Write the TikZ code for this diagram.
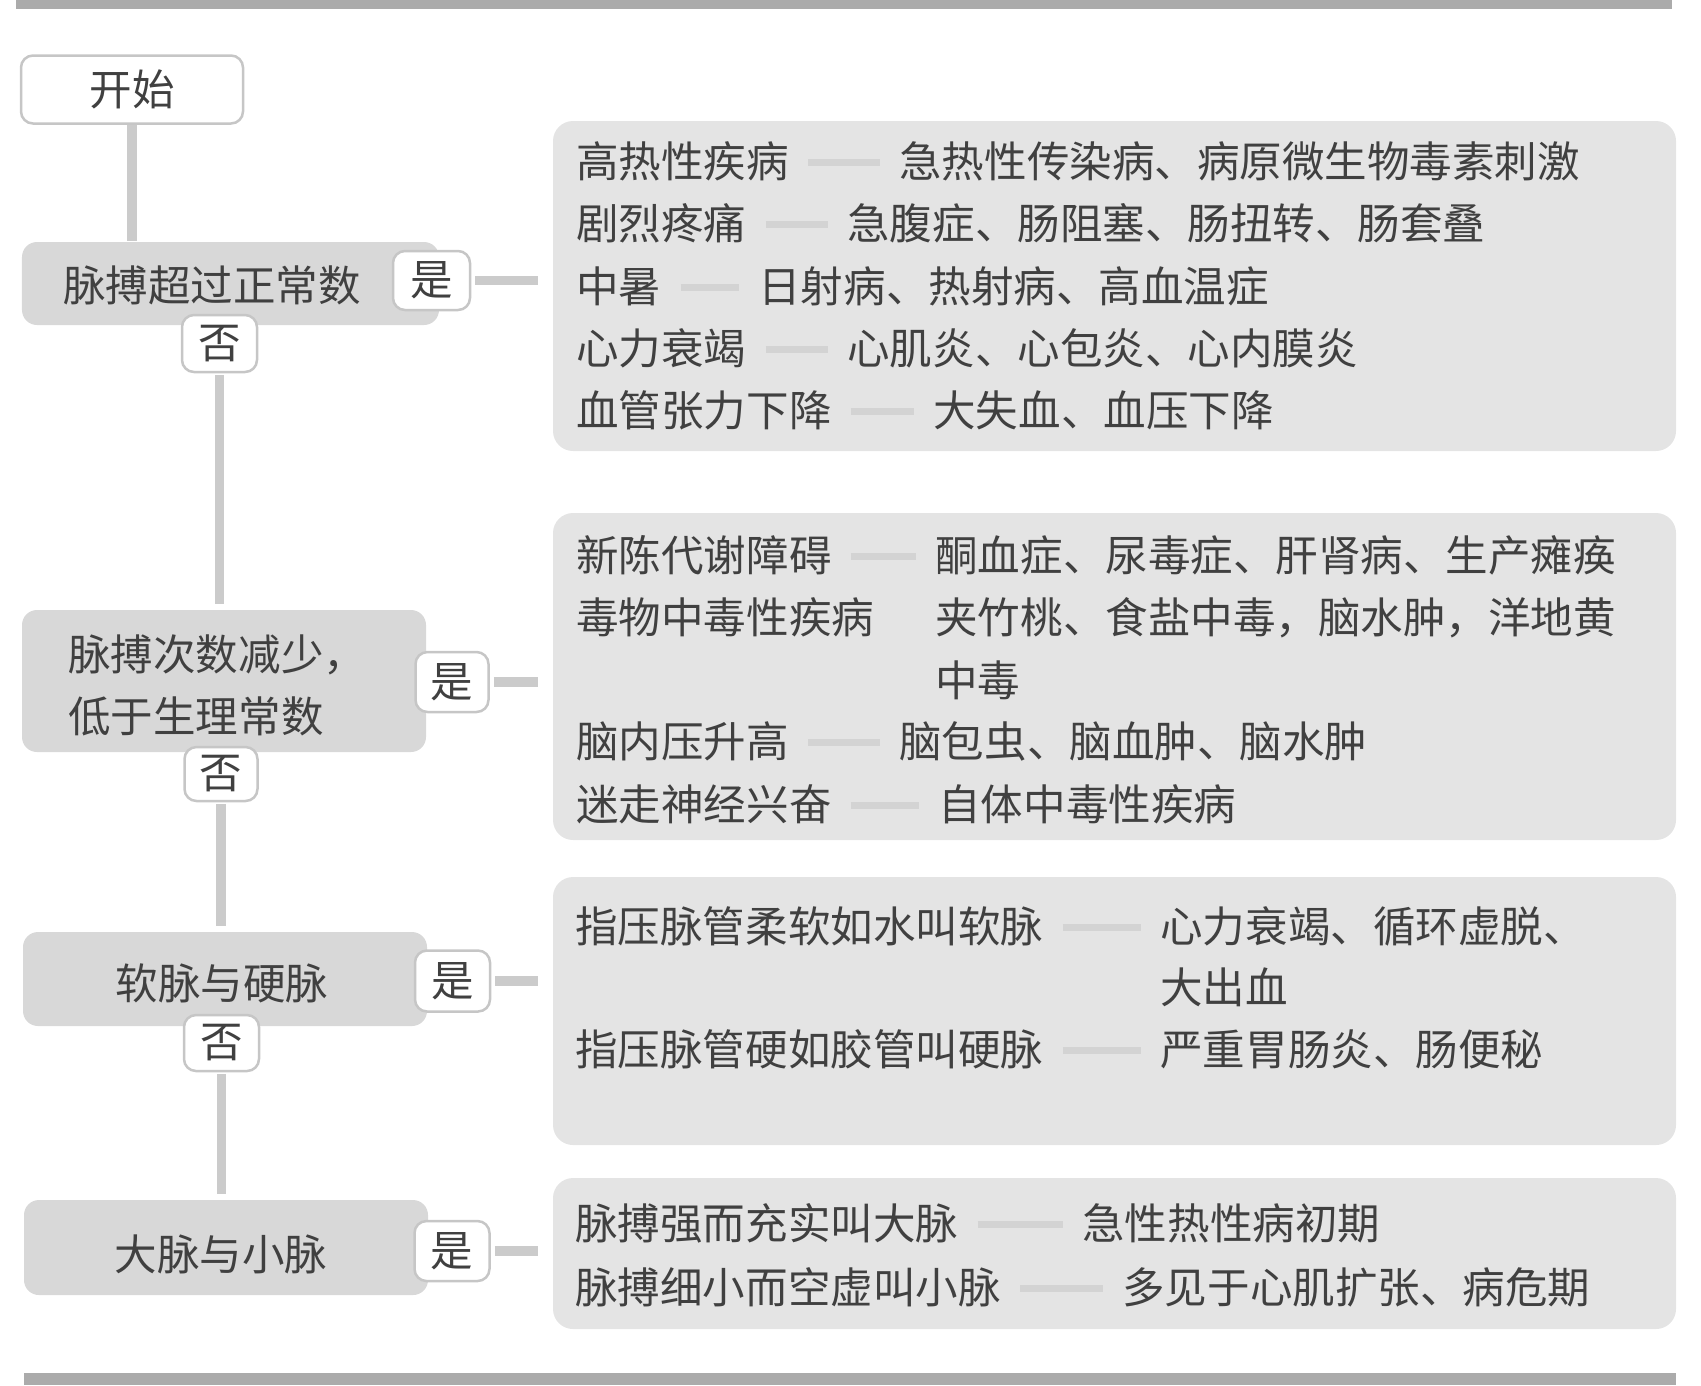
\documentclass[tikz,border=0pt]{standalone}
\usepackage{fontspec}
\setmainfont{Noto Sans CJK SC}
\usepackage{xcolor}
\usetikzlibrary{calc}
\definecolor{inkgray}{HTML}{404040}
\definecolor{boxgray}{HTML}{D8D8D8}
\definecolor{panelgray}{HTML}{E4E4E4}
\definecolor{linkgray}{HTML}{CBCBCB}
\definecolor{edgegray}{HTML}{C6C6C6}
\definecolor{dashgray}{HTML}{D3D3D3}
\definecolor{bargray}{HTML}{ABABAB}

\begin{document}
\begin{tikzpicture}[thick,
    every node/.style={font=\fontsize{12.1pt}{17.6pt}\selectfont, text=inkgray},
    qbox/.style={fill=boxgray, rounded corners=0.15cm, inner sep=0},
    panel/.style={fill=panelgray, rounded corners=0.2cm, inner sep=0},
    tag/.style={fill=white, draw=edgegray, line width=0.025cm, rounded corners=0.12cm, inner sep=0},
    item/.style={anchor=west, inner sep=0, text height=0.37cm, text depth=0.06cm},
    link/.style={draw=linkgray, line width=0.095cm},
    dashlink/.style={draw=dashgray, line width=0.07cm, shorten >=0.18cm, shorten <=0.18cm}]
      \useasboundingbox (0,0) rectangle (17.01,-13.85);
      % page rules
      \fill[bargray] (0.16,0) rectangle (16.72,-0.09);
      \fill[bargray] (0.24,-13.73) rectangle (16.76,-13.85);

      % left column
      \node[tag, minimum width=2.22cm, minimum height=0.68cm] (start) at (1.32,-0.895) {开始};
      \node[qbox, minimum width=4.17cm, minimum height=0.83cm] (q1) at (2.305,-2.835) {};
      \node (q1t) at (2.12,-2.85) {脉搏超过正常数};
      \node[qbox, minimum width=4.04cm, minimum height=1.42cm] (q2) at (2.24,-6.81) {};
      \node[anchor=west, align=left, inner sep=0] (q2t) at (0.67,-6.85) {脉搏次数减少，\\低于生理常数};
      \node[qbox, minimum width=4.04cm, minimum height=0.94cm] (q3) at (2.25,-9.79) {};
      \node (q3t) at (2.22,-9.83) {软脉与硬脉};
      \node[qbox, minimum width=4.04cm, minimum height=0.95cm] (q4) at (2.26,-12.475) {};
      \node (q4t) at (2.21,-12.54) {大脉与小脉};

      \node[tag, minimum width=0.77cm, minimum height=0.59cm] (yes1) at (4.315,-2.805) {是};
      \node[tag, minimum width=0.75cm, minimum height=0.57cm] (no1) at (2.195,-3.435) {否};
      \node[tag, minimum width=0.73cm, minimum height=0.60cm] (yes2) at (4.52,-6.82) {是};
      \node[tag, minimum width=0.73cm, minimum height=0.54cm] (no2) at (2.21,-7.74) {否};
      \node[tag, minimum width=0.75cm, minimum height=0.61cm] (yes3) at (4.525,-9.81) {是};
      \node[tag, minimum width=0.75cm, minimum height=0.56cm] (no3) at (2.215,-10.43) {否};
      \node[tag, minimum width=0.75cm, minimum height=0.60cm] (yes4) at (4.52,-12.51) {是};

      \draw[link] (start) -- (start |- q1.north);
      \draw[link, shorten <=0.02cm, shorten >=0.05cm] (no1) -- (no1 |- q2.north);
      \draw[link, shorten <=0.02cm, shorten >=0.05cm] (no2) -- (no2 |- q3.north);
      \draw[link, shorten <=0.02cm, shorten >=0.05cm] (no3) -- (no3 |- q4.north);

      % right panels
      \node[panel, minimum width=11.23cm, minimum height=3.30cm] (r1) at (11.145,-2.86) {};
      \node[panel, minimum width=11.23cm, minimum height=3.27cm] (r2) at (11.145,-6.765) {};
      \node[panel, minimum width=11.23cm, minimum height=2.68cm] (r3) at (11.145,-10.11) {};
      \node[panel, minimum width=11.23cm, minimum height=1.51cm] (r4) at (11.145,-12.535) {};

      \draw[link, shorten <=0.04cm, shorten >=0.14cm] (yes1.east) -- (yes1.east -| r1.west);
      \draw[link, shorten <=0.04cm, shorten >=0.14cm] (yes2.east) -- (yes2.east -| r2.west);
      \draw[link, shorten <=0.04cm, shorten >=0.14cm] (yes3.east) -- (yes3.east -| r3.west);
      \draw[link, shorten <=0.04cm, shorten >=0.14cm] (yes4.east) -- (yes4.east -| r4.west);

      % panel 1
      \node[item] (a1) at (5.75,-1.62) {高热性疾病};
      \node[item] (b1) at (8.98,-1.62) {急热性传染病、病原微生物毒素刺激};
      \node[item] (a2) at (5.75,-2.24) {剧烈疼痛};
      \node[item] (b2) at (8.46,-2.24) {急腹症、肠阻塞、肠扭转、肠套叠};
      \node[item] (a3) at (5.75,-2.87) {中暑};
      \node[item] (b3) at (7.57,-2.87) {日射病、热射病、高血温症};
      \node[item] (a4) at (5.75,-3.49) {心力衰竭};
      \node[item] (b4) at (8.46,-3.49) {心肌炎、心包炎、心内膜炎};
      \node[item] (a5) at (5.75,-4.11) {血管张力下降};
      \node[item] (b5) at (9.32,-4.11) {大失血、血压下降};
      % panel 2
      \node[item] (a6) at (5.75,-5.56) {新陈代谢障碍};
      \node[item] (b6) at (9.34,-5.56) {酮血症、尿毒症、肝肾病、生产瘫痪};
      \node[item] (a7) at (5.75,-6.18) {毒物中毒性疾病};
      \node[item] (b7) at (9.34,-6.18) {夹竹桃、食盐中毒，脑水肿，洋地黄};
      \node[item] (b7x) at (9.34,-6.81) {中毒};
      \node[item] (a8) at (5.75,-7.42) {脑内压升高};
      \node[item] (b8) at (8.98,-7.42) {脑包虫、脑血肿、脑水肿};
      \node[item] (a9) at (5.75,-8.05) {迷走神经兴奋};
      \node[item] (b9) at (9.37,-8.05) {自体中毒性疾病};
      % panel 3
      \node[item] (a10) at (5.74,-9.27) {指压脉管柔软如水叫软脉};
      \node[item] (b10) at (11.59,-9.27) {心力衰竭、循环虚脱、};
      \node[item] (b10x) at (11.59,-9.88) {大出血};
      \node[item] (a11) at (5.74,-10.50) {指压脉管硬如胶管叫硬脉};
      \node[item] (b11) at (11.59,-10.50) {严重胃肠炎、肠便秘};
      % panel 4
      \node[item] (a12) at (5.74,-12.24) {脉搏强而充实叫大脉};
      \node[item] (b12) at (10.81,-12.24) {急性热性病初期};
      \node[item] (a13) at (5.74,-12.88) {脉搏细小而空虚叫小脉};
      \node[item] (b13) at (11.21,-12.88) {多见于心肌扩张、病危期};

      \draw[dashlink] (a1) -- (b1);
      \draw[dashlink] (a2) -- (b2);
      \draw[dashlink] (a3) -- (b3);
      \draw[dashlink] (a4) -- (b4);
      \draw[dashlink] (a5) -- (b5);
      \draw[dashlink] (a6) -- (b6);
      \draw[dashlink] (a8) -- (b8);
      \draw[dashlink] (a9) -- (b9);
      \draw[dashlink] (a10) -- (b10);
      \draw[dashlink] (a11) -- (b11);
      \draw[dashlink] (a12) -- (b12);
      \draw[dashlink] (a13) -- (b13);
\end{tikzpicture}
\end{document}
